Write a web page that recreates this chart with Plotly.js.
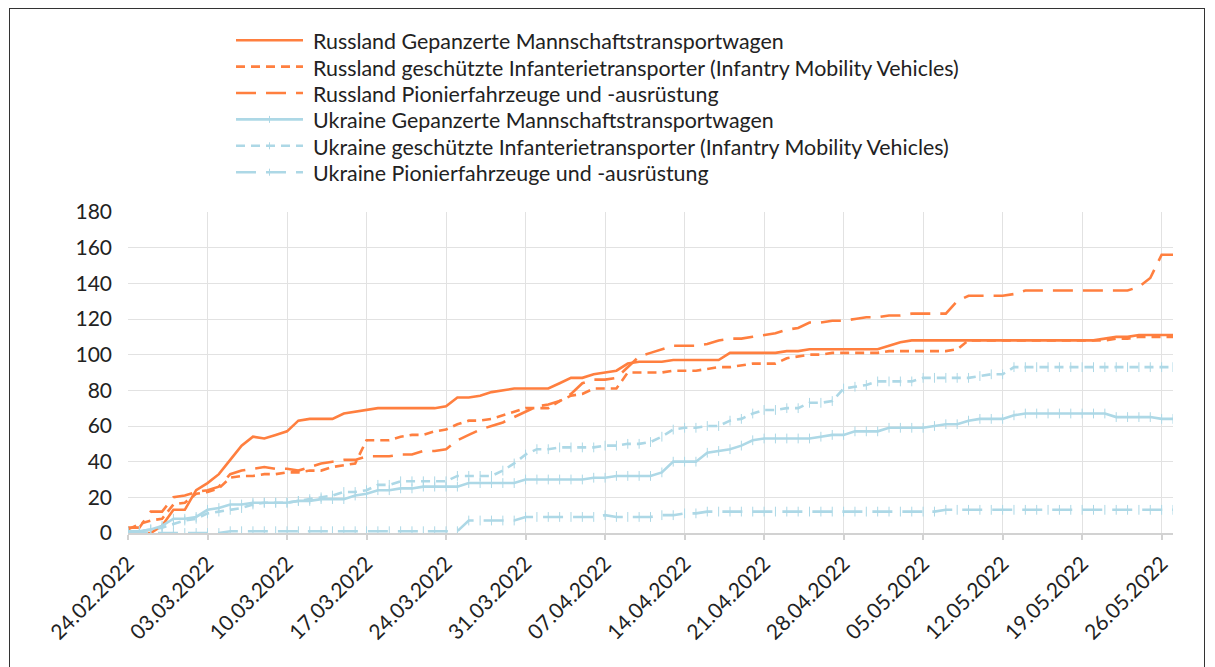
<!DOCTYPE html>
<html>
<head>
<meta charset="utf-8">
<script src="https://cdn.plot.ly/plotly-3.0.1.min.js"></script>
<style>
  html, body { margin: 0; padding: 0; background: #fff; }
  #chart { position: absolute; left: 0; top: 0; width: 1215px; height: 667px; }
  #frame { position: absolute; left: 9px; top: 8px; width: 1196px; height: 700px;
           border: 1px solid #333; box-sizing: border-box; pointer-events: none; }
</style>
</head>
<body>
<div id="chart"></div>
<div id="frame"></div>
<script>
// ---- data (daily values, 24.02.2022 .. 27.05.2022) ----
var startDate = '2022-02-24';
var seriesNames = [
  'Russland Gepanzerte Mannschaftstransportwagen',
  'Russland geschützte Infanterietransporter (Infantry Mobility Vehicles)',
  'Russland Pionierfahrzeuge und -ausrüstung',
  'Ukraine Gepanzerte Mannschaftstransportwagen',
  'Ukraine geschützte Infanterietransporter (Infantry Mobility Vehicles)',
  'Ukraine Pionierfahrzeuge und -ausrüstung'
];

var ruAPC = [0,0,0,4,13,13,24,28,33,41,
  49,54,53,55,57,63,64,64,64,67,
  68,69,70,70,70,70,70,70,71,76,
  76,77,79,80,81,81,81,81,84,87,
  87,89,90,91,95,96,96,96,97,97,
  97,97,97,101,101,101,101,101,102,102,
  103,103,103,103,103,103,103,105,107,108,
  108,108,108,108,108,108,108,108,108,108,
  108,108,108,108,108,108,109,110,110,111,
  111,111,111];

var ruIMV = [2,5,7,8,16,17,22,23,25,31,
  32,32,33,33,34,34,35,35,37,38,
  39,52,52,52,54,55,55,57,58,61,
  63,63,64,66,68,70,70,70,74,77,
  78,81,81,81,90,90,90,90,91,91,
  91,92,93,93,94,95,95,95,98,99,
  100,100,101,101,101,101,101,102,102,102,
  102,102,102,103,108,108,108,108,108,108,
  108,108,108,108,108,108,108,109,109,110,
  110,110,110];

var ruENG = [3,3,12,12,20,21,23,24,26,33,
  35,36,37,36,36,35,37,39,40,41,
  41,43,43,43,44,44,46,46,47,52,
  55,58,60,62,65,68,71,72,74,78,
  84,86,86,87,93,99,101,103,105,105,
  105,106,108,109,109,110,111,112,114,115,
  118,118,119,119,120,121,121,122,122,123,
  123,123,123,130,133,133,133,133,134,136,
  136,136,136,136,136,136,136,136,136,138,
  143,156,156];

var uaAPC = [1,1,2,4,8,8,9,13,14,16,
  16,17,17,17,17,18,18,19,19,19,
  21,22,24,24,25,25,26,26,26,26,
  28,28,28,28,28,30,30,30,30,30,
  30,31,31,32,32,32,32,34,40,40,
  40,45,46,47,49,52,53,53,53,53,
  53,54,55,55,57,57,57,59,59,59,
  59,60,61,61,63,64,64,64,66,67,
  67,67,67,67,67,67,67,65,65,65,
  65,64,64];

var uaIMV = [0,1,2,3,5,7,8,11,12,13,
  14,16,17,17,17,18,19,20,21,23,
  23,24,27,27,29,29,29,29,29,32,
  32,32,32,35,39,44,47,47,48,48,
  48,48,49,49,50,50,51,54,58,59,
  59,60,60,63,64,67,69,69,70,70,
  73,73,74,81,82,83,85,85,85,85,
  87,87,87,87,87,88,89,89,93,93,
  93,93,93,93,93,93,93,93,93,93,
  93,93,93];

var uaENG = [0,0,0,0,0,0,0,0,0,1,
  1,1,1,1,1,1,1,1,1,1,
  1,1,1,1,1,1,1,1,1,1,
  7,7,7,7,7,9,9,9,9,9,
  9,9,10,9,9,9,9,10,10,11,
  11,12,12,12,12,12,12,12,12,12,
  12,12,12,12,12,12,12,12,12,12,
  12,12,13,13,13,13,13,13,13,13,
  13,13,13,13,13,13,13,13,13,13,
  13,13,13];

var yTicks = [0,20,40,60,80,100,120,140,160,180];

// ---- build dates ----
var dates = [];
(function(){
  var d0 = new Date(startDate + 'T00:00:00Z');
  for (var i = 0; i < ruAPC.length; i++) {
    var d = new Date(d0.getTime() + i * 86400000);
    dates.push(d.toISOString().slice(0,10));
  }
})();

var orange = '#FF7F3F';
var blue = '#ADD8E6';
var shortDash = '9px,6px';
var longDash = '20px,10px';

var styles = [
  {color: orange, dash: 'solid', marker: false},
  {color: orange, dash: shortDash, marker: false},
  {color: orange, dash: longDash, marker: false},
  {color: blue, dash: 'solid', marker: true},
  {color: blue, dash: shortDash, marker: true},
  {color: blue, dash: longDash, marker: true}
];
var values = [ruAPC, ruIMV, ruENG, uaAPC, uaIMV, uaENG];

var data = values.map(function(y, i) {
  var s = styles[i];
  var t = {
    type: 'scatter', mode: s.marker ? 'lines+markers' : 'lines',
    name: seriesNames[i], x: dates, y: y, showlegend: false,
    line: {color: s.color, width: 2.6, dash: s.dash},
    hoverinfo: 'x+y+name'
  };
  if (s.marker) {
    t.marker = {symbol: 'line-ns-open', size: 7, color: s.color, line: {color: s.color, width: 1}};
  }
  return t;
});

// ---- manual legend (pixel layout converted to paper coords) ----
var M = {l: 128, r: 42, t: 212, b: 134};
var W = 1215, H = 667;
var pw = W - M.l - M.r, ph = H - M.t - M.b;
function px(x) { return (x - M.l) / pw; }
function py(y) { return (H - M.b - y) / ph; }

var font = 'Lato, "Open Sans", sans-serif';
var legRowY0 = 40.2, legRowGap = 26.4;
var legX0 = 236, legX1 = 303, legTextX = 311;
var shapes = [], annotations = [];
seriesNames.forEach(function(name, i) {
  var s = styles[i];
  var yy = legRowY0 + i * legRowGap;
  shapes.push({type: 'line', xref: 'paper', yref: 'paper',
    x0: px(legX0), x1: px(legX1), y0: py(yy), y1: py(yy),
    line: {color: s.color, width: 2.6, dash: s.dash}});
  if (s.marker) {
    var mx = (legX0 + legX1) / 2;
    shapes.push({type: 'line', xref: 'paper', yref: 'paper',
      x0: px(mx), x1: px(mx), y0: py(yy - 3.5), y1: py(yy + 3.5),
      line: {color: s.color, width: 1}});
  }
  annotations.push({xref: 'paper', yref: 'paper', x: px(legTextX), y: py(yy + 1),
    xanchor: 'left', yanchor: 'middle', showarrow: false, text: name,
    font: {family: font, size: 21.4, color: '#222'}});
});

var layout = {
  width: W, height: H,
  margin: M,
  paper_bgcolor: 'rgba(0,0,0,0)', plot_bgcolor: '#fff',
  font: {family: font, size: 21, color: '#222'},
  showlegend: false,
  shapes: shapes, annotations: annotations,
  xaxis: {
    type: 'date',
    range: ['2022-02-24', '2022-05-27'],
    tick0: '2022-02-24', dtick: 7 * 86400000,
    tickformat: '%d.%m.%Y', tickangle: -45,
    showgrid: true, gridcolor: '#E2E2E2', gridwidth: 1,
    showline: true, linecolor: '#D2D2D2', linewidth: 2,
    ticks: 'outside', ticklen: 5, tickcolor: '#D2D2D2', tickwidth: 2,
    ticklabelstandoff: 3,
    tickfont: {family: font, size: 21, color: '#222'},
    zeroline: false, fixedrange: true
  },
  yaxis: {
    range: [0, 180], tickvals: yTicks,
    showgrid: true, gridcolor: '#E2E2E2', gridwidth: 1,
    showline: false, zeroline: false, ticks: '',
    ticklabelstandoff: 15,
    tickfont: {family: font, size: 21, color: '#222'},
    fixedrange: true
  }
};

Plotly.newPlot('chart', data, layout, {displayModeBar: false, staticPlot: true});
</script>
</body>
</html>
